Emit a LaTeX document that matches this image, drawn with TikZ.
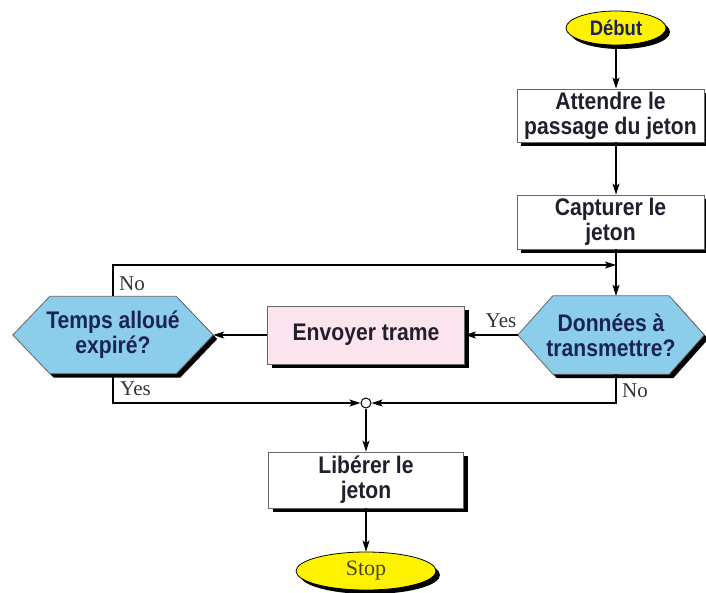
\documentclass[tikz,border=0pt]{standalone}
\usepackage{fontspec}
\setmainfont[FakeStretch=0.88]{Liberation Sans}
\newfontfamily\labfont{Liberation Serif}
\usetikzlibrary{shapes.geometric,shadows,arrows.meta}
\definecolor{hexblue}{RGB}{140,205,235}
\definecolor{pinkbox}{RGB}{252,228,238}
\definecolor{navytext}{RGB}{25,35,85}
\definecolor{olivetext}{RGB}{70,70,20}
\definecolor{boxtext}{RGB}{35,30,45}
\pgfdeclarelayer{bg}
\pgfsetlayers{bg,main}
\newcommand\hexpath[4]{([shift={(#3,#4)}]#1.west) -- ([shift={(#2+#3,#4)}]#1.north west) -- ([shift={(-#2+#3,#4)}]#1.north east) -- ([shift={(#3,#4)}]#1.east) -- ([shift={(-#2+#3,#4)}]#1.south east) -- ([shift={(#2+#3,#4)}]#1.south west) -- cycle}
\begin{document}
\begin{tikzpicture}[x=1pt,y=-1pt,
  shadowed/.style={drop shadow={shadow xshift=4pt,shadow yshift=-4pt,fill=black,opacity=1}},
  box/.style={shadowed,draw=black!60,line width=0.8pt,fill=white,align=center,inner sep=0pt,text=boxtext,font=\bfseries\fontsize{24}{25}\selectfont},
  term/.style={ellipse,shadowed,draw=black,line width=0.8pt,fill=yellow,inner sep=0pt},
  hexnode/.style={inner sep=0pt,align=center,text=navytext,font=\bfseries\fontsize{24}{25}\selectfont},
  hexshape/.style={fill=hexblue,draw=black!60,line width=0.8pt},
  lab/.style={font=\labfont\fontsize{21}{21}\selectfont,text=black!80,inner sep=0pt},
  conn/.style={line width=1.2pt,-{Stealth[length=11pt,width=7pt,inset=2.5pt]}}
]
\useasboundingbox (0,0) rectangle (706,592);

\node[term,minimum width=100,minimum height=34,text=navytext,font=\bfseries\fontsize{21}{21}\selectfont] (debut) at (616,28) {Début};
\node[box,minimum width=187,minimum height=53] (attendre) at (610.5,115.5) {Attendre le\\passage du jeton};
\node[box,minimum width=187,minimum height=54] (capturer) at (610.5,222) {Capturer le\\jeton};
\node[hexnode,minimum width=186,minimum height=78] (donnees) at (611,335) {Données à\\transmettre?};
\node[box,fill=pinkbox,minimum width=197,minimum height=58] (envoyer) at (366,335) {Envoyer trame};
\node[hexnode,minimum width=200,minimum height=77] (temps) at (113,335) {Temps alloué\\expiré?};
\node[circle,draw,fill=white,line width=1pt,minimum size=10,inner sep=0pt] (jonction) at (366,403) {};
\node[box,minimum width=195,minimum height=56] (liberer) at (366,480) {Libérer le\\jeton};
\node[term,minimum width=140,minimum height=38,text=olivetext,font=\labfont\fontsize{22}{22}\selectfont] (stop) at (366,571) {Stop};

\begin{pgfonlayer}{bg}
  \fill[black] \hexpath{temps}{37}{4}{4};
  \path[hexshape] \hexpath{temps}{37}{0}{0};
  \fill[black] \hexpath{donnees}{35}{4}{4};
  \path[hexshape] \hexpath{donnees}{35}{0}{0};
\end{pgfonlayer}

\coordinate (retour) at (616,265);

\draw[conn] (debut) -- (attendre.north -| debut);
\draw[conn] (attendre.south -| debut) -- (capturer.north -| debut);
\draw[conn] (capturer.south -| debut) -- (donnees.north -| debut);
\draw[conn] (donnees.west) -- (envoyer.east);
\draw[conn] (envoyer.west) -- (temps.east);
\draw[conn] (temps.north) |- (retour);
\draw[conn] (temps.south) |- (jonction.west);
\draw[conn] (donnees.south -| debut) |- (jonction.east);
\draw[conn] (jonction) -- (liberer.north -| jonction);
\draw[conn] (liberer.south -| jonction) -- (stop);

\node[lab,anchor=west] (no1) at (119,284) {No};
\node[lab,anchor=west] (yes1) at (120,389) {Yes};
\node[lab] (yes2) at (501,321) {Yes};
\node[lab,anchor=west] (no2) at (622,391) {No};
\end{tikzpicture}
\end{document}
